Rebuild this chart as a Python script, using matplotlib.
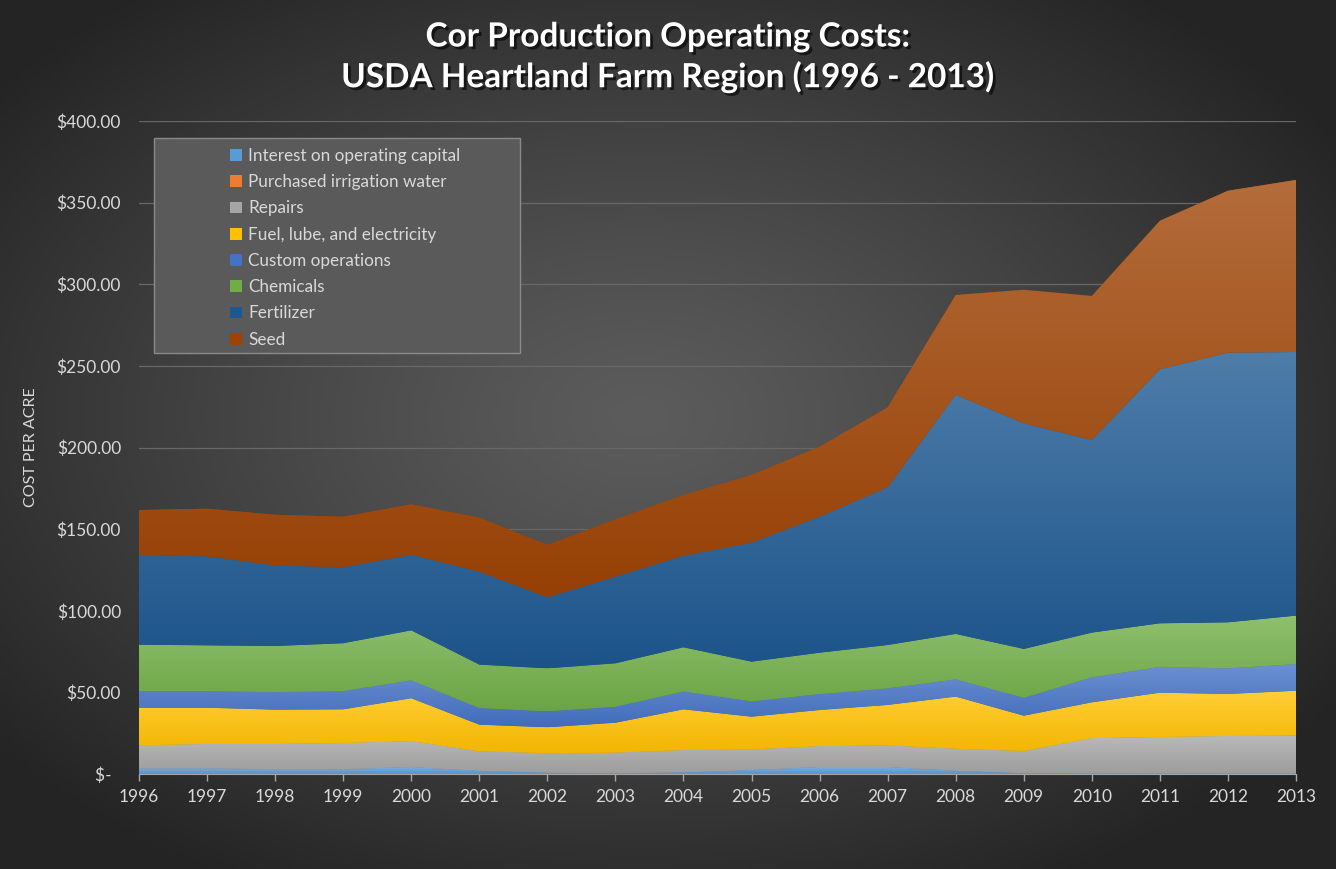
import numpy as np
import matplotlib
matplotlib.use("Agg")
import matplotlib.pyplot as plt
from matplotlib.patches import Patch, Rectangle
from matplotlib.colors import to_rgb
import matplotlib.patheffects as pe

plt.rcParams['font.family'] = ['Lato', 'DejaVu Sans']

years = list(range(1996, 2014))

interest = [3.4, 3.5, 3.0, 3.0, 4.3, 2.0, 0.8, 0.5, 1.0, 2.5, 4.3, 4.3, 2.0, 0.5, 0.3, 0.3, 0.3, 0.3]
irrigation = [0.0] * 18
repairs = [14.2, 14.9, 15.4, 16.0, 15.9, 11.9, 12.0, 12.6, 13.7, 12.6, 12.8, 13.3, 13.5, 13.6, 21.7, 22.4, 23.0, 23.2]
fuel = [23.0, 22.2, 21.0, 20.6, 26.2, 16.3, 15.8, 18.3, 24.9, 20.0, 22.1, 24.7, 31.9, 21.6, 21.9, 27.1, 25.7, 27.5]
custom_ops = [10.2, 10.2, 10.8, 11.2, 11.0, 10.2, 9.8, 9.8, 11.0, 9.4, 9.8, 10.2, 10.6, 11.0, 15.3, 15.9, 15.7, 16.4]
chemicals = [28.4, 28.0, 28.2, 29.3, 30.6, 26.6, 26.3, 26.6, 27.0, 24.3, 25.3, 26.5, 27.8, 29.9, 27.4, 26.6, 28.2, 29.6]
fertilizer = [55.1, 54.5, 49.4, 46.5, 46.3, 56.9, 43.5, 53.1, 56.1, 72.9, 83.3, 96.6, 146.5, 138.2, 118.0, 155.6, 165.2, 161.5]
seed = [27.4, 29.2, 31.0, 31.0, 30.9, 33.1, 32.1, 35.1, 37.2, 41.5, 42.9, 49.0, 61.1, 81.8, 88.2, 91.0, 99.2, 105.4]

labels = ["Interest on operating capital", "Purchased irrigation water", "Repairs",
          "Fuel, lube, and electricity", "Custom operations", "Chemicals",
          "Fertilizer", "Seed"]
series = [interest, irrigation, repairs, fuel, custom_ops, chemicals, fertilizer, seed]
colors = ["#5B9BD5", "#ED7D31", "#A5A5A5", "#FFC000", "#4472C4", "#70AD47", "#1D5891", "#9E4304"]

W, H = 1336, 869
fig = plt.figure(figsize=(W / 100, H / 100), dpi=100)

# dark radial background
bg = fig.add_axes([0, 0, 1, 1], zorder=-10)
gx, gy = np.meshgrid(np.linspace(0, 1, 400), np.linspace(0, 1, 260))
d = np.sqrt(((gx - 0.48) / 0.62) ** 2 + ((gy - 0.52) / 0.62) ** 2)
d = np.clip(d, 0, 1) ** 1.2
c0, c1 = np.array(to_rgb("#5c5c5c")), np.array(to_rgb("#242424"))
img = c0[None, None, :] + (c1 - c0)[None, None, :] * d[:, :, None]
bg.imshow(img, extent=[0, 1, 0, 1], origin="lower", aspect="auto")
bg.set_axis_off()

ax = fig.add_axes([139 / W, 1 - 774 / H, (1296 - 139) / W, (774 - 121) / H])
ax.set_facecolor("none")

polys = ax.stackplot(years, *series, colors=colors, linewidth=0)

# vertical gradient per series, lighter at the top
cum = np.zeros(len(years))
for poly, vals, col in zip(polys, series, colors):
    lo = cum.copy()
    cum = cum + np.array(vals)
    if max(vals) <= 0:
        continue
    base = np.array(to_rgb(col))
    top_c = base + (1 - base) * 0.22
    bot_c = base * 0.95
    t = np.linspace(0, 1, 256)[:, None]
    grad = (bot_c[None, :] * (1 - t) + top_c[None, :] * t)[:, None, :]
    im = ax.imshow(grad, extent=[years[0], years[-1], lo.min(), cum.max()],
                   origin="lower", aspect="auto", interpolation="bilinear", zorder=2)
    im.set_clip_path(poly.get_paths()[0], transform=ax.transData)

ax.set_xlim(years[0], years[-1])
ax.set_ylim(0, 400)
ax.set_xticks(years)
ax.set_yticks(range(0, 401, 50))
ax.set_yticklabels(["$-  "] + [f"${v:.2f}" for v in range(50, 401, 50)])
ax.yaxis.grid(True, color="#686868", linewidth=0.9, zorder=0)
ax.set_axisbelow(True)
for s in ["top", "right", "left"]:
    ax.spines[s].set_visible(False)
ax.spines["bottom"].set_color("#a6a6a6")
ax.spines["bottom"].set_zorder(5)
ax.tick_params(axis="x", colors="#a6a6a6", length=5, width=1, labelcolor="#d9d9d9",
               labelsize=12.5, pad=6)
ax.tick_params(axis="y", length=0, labelcolor="#d9d9d9", labelsize=12.5, pad=13)
ax.set_ylabel("COST PER ACRE", color="#d9d9d9", fontsize=11.5)
ax.yaxis.set_label_coords(-0.087, 0.5)

shadow = [pe.withSimplePatchShadow(offset=(2, -2), shadow_rgbFace="black", alpha=0.6)]
fig.text(0.5, 1 - 37 / H, "Cor Production Operating Costs:", ha="center", va="center",
         fontsize=24, fontweight="bold", color="white", path_effects=shadow)
fig.text(0.5, 1 - 77 / H, "USDA Heartland Farm Region (1996 - 2013)", ha="center", va="center",
         fontsize=24, fontweight="bold", color="white", path_effects=shadow)

# legend box
fig.patches.append(Rectangle((154 / W, 1 - 353 / H), (520 - 154) / W, (353 - 138) / H,
                             transform=fig.transFigure, facecolor="#5a5a5a",
                             edgecolor="#8a8a8a", linewidth=1, zorder=3))
handles = [Patch(facecolor=c, edgecolor="none") for c in colors]
leg = fig.legend(handles, labels, loc="upper left", bbox_to_anchor=(218 / W, 1 - 136 / H),
                 frameon=False, fontsize=12.3, labelcolor="#d9d9d9", handlelength=0.7,
                 handleheight=0.7, handletextpad=0.35, labelspacing=0.6, borderpad=0.2)
leg.set_zorder(4)

fig.savefig("out.png", dpi=100)
